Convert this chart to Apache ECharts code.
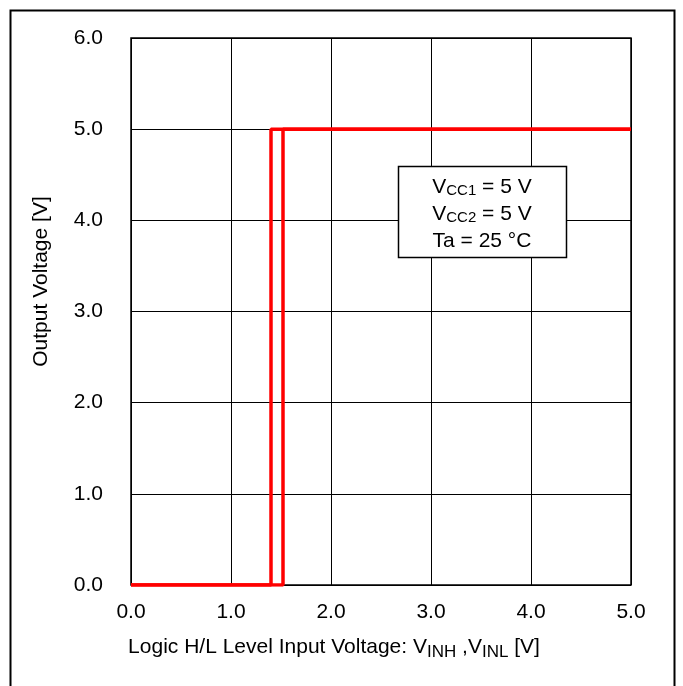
<!DOCTYPE html>
<html>
<head>
<meta charset="utf-8">
<script src="https://cdn.jsdelivr.net/npm/echarts@6/dist/echarts.min.js"></script>
<style>html,body{margin:0;padding:0;background:#fff}#c{width:683px;height:686px}</style>
</head>
<body>
<div id="c"></div>
<script>
// Data
const risingX = [0.0, 1.52, 1.52, 5.0];
const risingY = [0.0, 0.0, 5.0, 5.0];
const fallingX = [5.0, 1.40, 1.40, 0.0];
const fallingY = [5.0, 5.0, 0.0, 0.0];
const xTicks = [0, 1, 2, 3, 4, 5];
const yTicks = [0, 1, 2, 3, 4, 5, 6];

const FONT = '"Liberation Sans", Arial, sans-serif';
const chart = echarts.init(document.getElementById('c'), null, {renderer: 'canvas'});

function zip(xs, ys) { return xs.map((x, i) => [x, ys[i]]); }

chart.setOption({
  animation: false,
  backgroundColor: '#fff',
  grid: {left: 131, right: 52, top: 38, bottom: 101, show: true, borderColor: '#000', borderWidth: 1.5},
  xAxis: {
    type: 'value', min: 0, max: 5, interval: 1,
    axisLine: {show: false}, axisTick: {show: false},
    splitLine: {show: true, lineStyle: {color: '#000', width: 1}},
    axisLabel: {color: '#000', fontSize: 21, fontFamily: FONT, margin: 17, formatter: v => v.toFixed(1)},
    name: '{n|Logic H/L Level Input Voltage: V}{s|INH}{n| ,V}{s|INL}{n| [V]}',
    nameLocation: 'middle', nameGap: 52,
    nameTextStyle: {
      padding: [0, 94, 0, 0],
      rich: {
        n: {fontSize: 21, fontFamily: FONT, color: '#000', lineHeight: 24, verticalAlign: 'top', padding: [0, 0, 5, 0]},
        s: {fontSize: 17, fontFamily: FONT, color: '#000', lineHeight: 16, verticalAlign: 'bottom'}
      }
    }
  },
  yAxis: {
    type: 'value', min: 0, max: 6, interval: 1,
    axisLine: {show: false}, axisTick: {show: false},
    splitLine: {show: true, lineStyle: {color: '#000', width: 1}},
    axisLabel: {color: '#000', fontSize: 21, fontFamily: FONT, margin: 28, formatter: v => v.toFixed(1)},
    name: 'Output Voltage [V]', nameLocation: 'middle', nameGap: 79,
    nameTextStyle: {color: '#000', fontSize: 21, fontFamily: FONT, padding: [0, 0, 0, 60]}
  },
  series: [
    {type: 'line', data: zip(risingX, risingY), symbol: 'none', lineStyle: {color: '#ff0000', width: 3.5}, z: 5},
    {type: 'line', data: zip(fallingX, fallingY), symbol: 'none', lineStyle: {color: '#ff0000', width: 3.5}, z: 5}
  ],
  graphic: [
    {type: 'rect', shape: {x: 10.5, y: 10.5, width: 664, height: 680}, style: {fill: 'none', stroke: '#000', lineWidth: 2}, z: 1},
    {type: 'rect', shape: {x: 398.5, y: 166.5, width: 168, height: 91}, style: {fill: '#fff', stroke: '#000', lineWidth: 1.5}, z: 10},
    {type: 'text', x: 482, y: 171, z: 11, style: {
      text: '{n|V}{s|CC1}{n| = 5 V}\n{n|V}{s|CC2}{n| = 5 V}\n{n|Ta = 25 °C}',
      align: 'center', verticalAlign: 'top', lineHeight: 27,
      rich: {
        n: {fontSize: 21, fontFamily: FONT, fill: '#000', lineHeight: 27, verticalAlign: 'bottom'},
        s: {fontSize: 15, fontFamily: FONT, fill: '#000', lineHeight: 27, verticalAlign: 'bottom', padding: [3, 0, 0, 0]}
      }
    }}
  ]
});
</script>
</body>
</html>
